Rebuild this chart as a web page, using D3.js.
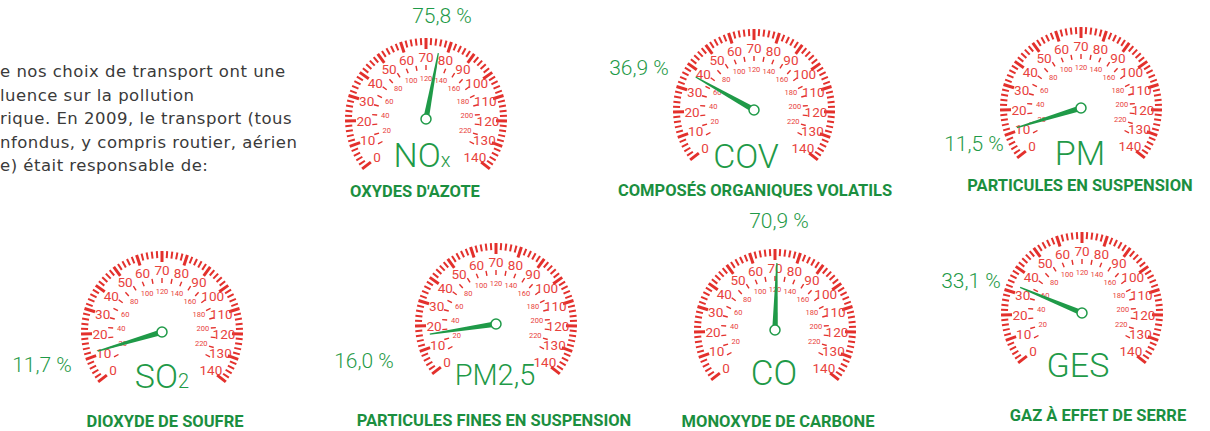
<!DOCTYPE html>
<html>
<head>
<meta charset="utf-8">
<script src="https://cdn.jsdelivr.net/npm/d3@7"></script>
<style>
  body { margin: 0; background: #fff; }
  svg { display: block; }
</style>
</head>
<body>
<script>
// Data
var codes = ["NOx", "COV", "PM", "SO2", "PM2,5", "CO", "GES"];
var names = ["OXYDES D'AZOTE", "COMPOSÉS ORGANIQUES VOLATILS", "PARTICULES EN SUSPENSION",
    "DIOXYDE DE SOUFRE", "PARTICULES FINES EN SUSPENSION", "MONOXYDE DE CARBONE", "GAZ À EFFET DE SERRE"];
var shares = [75.8, 36.9, 11.5, 11.7, 16.0, 70.9, 33.1];
var outerLabels = [0, 10, 20, 30, 40, 50, 60, 70, 80, 90, 100, 110, 120, 130, 140];
var innerLabels = [20, 40, 60, 80, 100, 120, 140, 160, 180, 200, 220];
var introLines = ["e nos choix de transport ont une", "luence sur la pollution",
    "rique. En 2009, le transport (tous", "nfondus, y compris routier, aérien",
    "e) était responsable de:"];

// Layout
var svgWidth = 1210, svgHeight = 431;
var centers = [[426, 119], [754, 110], [1081, 108], [162, 332], [496, 324], [775, 330], [1082, 313]];
var pctPos = [[442, 23], [639, 75], [974, 151], [42, 372], [364, 368], [779, 228], [971, 288]];
var codePos = [[422, 167], [746, 168], [1080, 165], [162, 388], [495, 385], [774, 385], [1078, 377]];
var namePos = [[415, 197], [755, 196], [1080, 191], [165, 427], [494, 426], [778, 427], [1098, 421]];
var codeSize = [34, 34, 34, 34, 29, 35, 34];

var R = 81;
var red = "#e3302c", redLight = "#e8423d", green = "#1f9a48";

var frNum = d3.formatLocale({decimal: ",", thousands: " ", grouping: [3], currency: ["", "€"]}).format(".1f");

// Angle scales (degrees from vertical)
var outerScale = d3.scaleLinear().domain([0, 140]).range([-128, 128]);
var innerScale = d3.scaleLinear().domain([0, 240]).range([-128, 128]);

function polar(a, r) {
    var t = a * Math.PI / 180;
    return [r * Math.sin(t), -r * Math.cos(t)];
}

var svg = d3.select("body").append("svg")
    .attr("width", svgWidth)
    .attr("height", svgHeight);

// Intro text
svg.append("g").selectAll("text")
    .data(introLines)
    .enter().append("text")
    .attr("x", 0)
    .attr("y", (d, i) => 77 + i * 23.5)
    .attr("font-family", "'DejaVu Sans', sans-serif")
    .attr("font-size", 16.5)
    .attr("letter-spacing", 0.5)
    .attr("fill", "#3a3a3a")
    .text(d => d);

var gauges = svg.selectAll("g.gauge")
    .data(codes)
    .enter().append("g")
    .attr("class", "gauge");

gauges.each(function (code, i) {
    var g = d3.select(this);
    var c = centers[i];
    var dial = g.append("g").attr("transform", `translate(${c[0]}, ${c[1]})`);

    // Outer ticks every 2 units
    dial.selectAll("line.outer")
        .data(d3.range(0, 141, 2))
        .enter().append("line")
        .attr("class", "outer")
        .attr("transform", d => `rotate(${outerScale(d)})`)
        .attr("x1", 0).attr("x2", 0)
        .attr("y1", -R)
        .attr("y2", d => d % 10 === 0 ? -R + 11 : -R + 7)
        .attr("stroke", red)
        .attr("stroke-width", d => d % 10 === 0 ? 3 : 2);

    // Inner ticks every 10 inner units
    dial.selectAll("line.inner")
        .data(d3.range(10, 231, 10))
        .enter().append("line")
        .attr("class", "inner")
        .attr("transform", d => `rotate(${innerScale(d)})`)
        .attr("x1", 0).attr("x2", 0)
        .attr("y1", -54).attr("y2", -49)
        .attr("stroke", red)
        .attr("stroke-width", 1.4);

    // Outer labels
    dial.selectAll("text.outer")
        .data(outerLabels)
        .enter().append("text")
        .attr("class", "outer")
        .attr("x", d => polar(outerScale(d), 62)[0])
        .attr("y", d => polar(outerScale(d), 62)[1])
        .attr("text-anchor", "middle")
        .attr("dominant-baseline", "central")
        .attr("font-family", "'Liberation Sans Narrow', 'Roboto', sans-serif")
        .attr("font-size", 13.5)
        .attr("fill", redLight)
        .text(d => d);

    // Inner labels
    dial.selectAll("text.inner")
        .data(innerLabels)
        .enter().append("text")
        .attr("class", "inner")
        .attr("x", d => polar(innerScale(d), 41)[0])
        .attr("y", d => polar(innerScale(d), 41)[1])
        .attr("text-anchor", "middle")
        .attr("dominant-baseline", "central")
        .attr("font-family", "'Liberation Sans Narrow', 'Roboto', sans-serif")
        .attr("font-size", 7.5)
        .attr("fill", redLight)
        .text(d => d);

    // Needle
    var a = outerScale(shares[i]);
    dial.append("path")
        .attr("transform", `rotate(${a})`)
        .attr("d", "M-2.8,0 L-0.6,-67 L0.6,-67 L2.8,0 Z")
        .attr("fill", green);
    dial.append("circle")
        .attr("r", 5)
        .attr("fill", "#fff")
        .attr("stroke", green)
        .attr("stroke-width", 1.5);

    // Share label
    g.append("text")
        .attr("x", pctPos[i][0])
        .attr("y", pctPos[i][1])
        .attr("text-anchor", "middle")
        .attr("font-family", "Roboto, sans-serif")
        .attr("font-weight", 300)
        .attr("font-size", 21)
        .attr("fill", green)
        .text(frNum(shares[i]) + " %");

    // Pollutant code (with small suffix for NOx / SO2)
    var codeText = g.append("text")
        .attr("x", codePos[i][0])
        .attr("y", codePos[i][1])
        .attr("text-anchor", "middle")
        .attr("font-family", "Roboto, sans-serif")
        .attr("font-weight", 300)
        .attr("font-size", codeSize[i])
        .attr("fill", green);
    if (code === "NOx" || code === "SO2") {
        codeText.append("tspan").text(code.slice(0, 2));
        codeText.append("tspan").attr("font-size", 20).text(code.slice(2));
    } else {
        codeText.text(code);
    }

    // Pollutant name
    g.append("text")
        .attr("x", namePos[i][0])
        .attr("y", namePos[i][1])
        .attr("text-anchor", "middle")
        .attr("font-family", "'Liberation Sans Narrow', 'Roboto', sans-serif")
        .attr("font-weight", 700)
        .attr("font-size", 16.5)
        .attr("fill", "#1b8f3f")
        .text(names[i]);
});
</script>
</body>
</html>
